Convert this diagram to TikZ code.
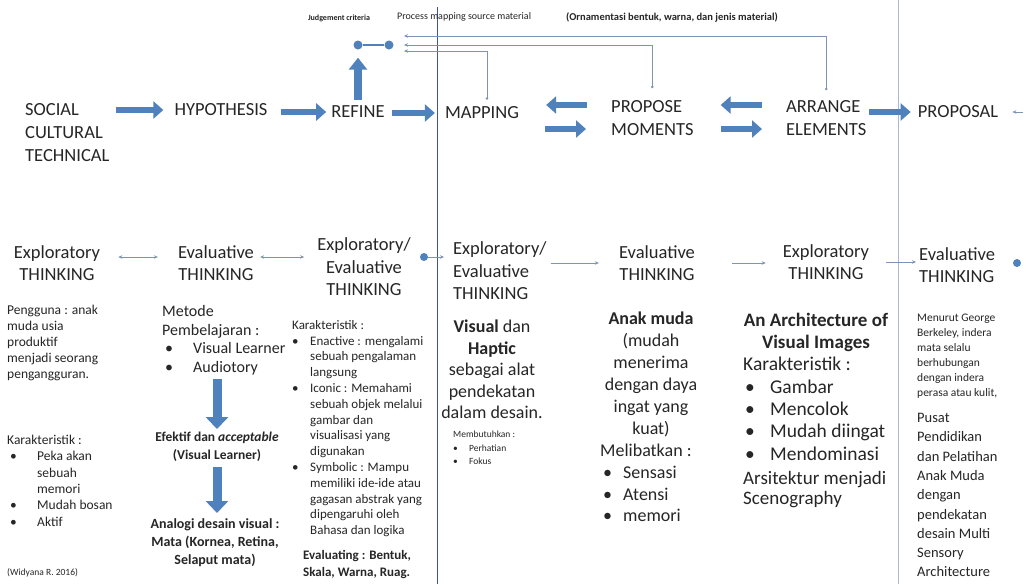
\documentclass[tikz,border=0pt]{standalone}
\usepackage{fontspec}
\setmainfont{Carlito}
\usetikzlibrary{arrows.meta}
\definecolor{arrblue}{RGB}{79,129,189}
\definecolor{txt}{RGB}{38,38,38}
\definecolor{vline}{RGB}{60,85,155}
\definecolor{vlinetwo}{RGB}{165,185,215}
\definecolor{thinc}{RGB}{125,148,182}
\newcommand\bu[1]{\makebox[#1][l]{\textbullet}}
\newcommand\fs[2]{\fontsize{#1}{#2}\selectfont}
\begin{document}
\begin{tikzpicture}[x=1pt,y=-1pt,
  every node/.style={inner sep=0pt,text=txt},
  bigarr/.style={draw=arrblue,line width=6pt,-{Triangle[width=17pt,length=10pt]}},
  vbigarr/.style={draw=arrblue,line width=9pt,-{Triangle[width=22pt,length=12pt]}},
  thinarr/.style={draw=thinc,line width=0.7pt,-{Stealth[length=4pt,width=3.5pt]}},
  dblarr/.style={draw=thinc,line width=0.7pt,{Stealth[length=4pt,width=3.5pt]}-{Stealth[length=4pt,width=3.5pt]}},
  conn/.style={draw=thinc,line width=0.7pt,{Circle[length=2.5pt]}-{Stealth[length=4pt,width=3.5pt]}},
  dotc/.style={circle,fill=arrblue,inner sep=0pt,minimum size=9pt},
  sdotc/.style={circle,fill=arrblue,inner sep=0pt,minimum size=8pt},
  toprow/.style={font=\fs{18.5}{23},align=left},
  think/.style={font=\fs{18.5}{22.5},align=center},
]
\useasboundingbox[fill=white] (0,0) rectangle (1027,584);

% vertical separators
\coordinate (va) at (437,7); \coordinate (vb) at (437,584);
\coordinate (wa) at (898,0); \coordinate (wb) at (898,584);
\draw[vline,line width=1pt] (va) -- (vb);
\draw[vlinetwo,line width=1pt] (wa) -- (wb);

% top labels
\node[font=\bfseries\fs{8}{10}] (jc) at (339,18) {Judgement criteria};
\node[font=\fs{10}{12},anchor=west] (pm) at (397,17) {Process mapping source material};
\node[font=\bfseries\fs{10.5}{12},anchor=west] (orn) at (566,17) {(Ornamentasi bentuk, warna, dan jenis material)};

% judgement circles
\node[dotc] (c1) at (358,45) {};
\node[dotc] (c2) at (389,45) {};
\draw[arrblue,line width=1.3pt] (c1) -- (c2);

% top row
\node[toprow,anchor=west] (soc) at (25,133) {SOCIAL\\CULTURAL\\TECHNICAL};
\node[toprow] (hyp) at (221,110) {HYPOTHESIS};
\node[toprow] (ref) at (358,112) {REFINE};
\node[toprow] (map) at (482,113) {MAPPING};
\node[toprow,anchor=west] (prop) at (611,118) {PROPOSE\\MOMENTS};
\node[toprow,anchor=west] (arr) at (786,118) {ARRANGE\\ELEMENTS};
\node[toprow] (pro) at (958,112) {PROPOSAL};

\draw[bigarr,shorten <=6pt,shorten >=11pt] (soc.east |- hyp) -- (hyp.west);
\draw[bigarr,shorten <=13pt,shorten >=5pt] (hyp.east |- ref) -- (ref.west);
\draw[bigarr,shorten <=7pt,shorten >=10pt] (ref.east |- map) -- (map.west);
\coordinate (pu) at ([yshift=13pt]prop.west);
\coordinate (pl) at ([yshift=-11pt]prop.west);
\draw[bigarr,shorten <=24pt,shorten >=27pt] (pu) -- (map.east |- pu);
\draw[bigarr,shorten <=26pt,shorten >=25pt] (map.east |- pl) -- (pl);
\coordinate (au) at ([yshift=13pt]arr.west);
\coordinate (al) at ([yshift=-11pt]arr.west);
\draw[bigarr,shorten <=24pt,shorten >=27pt] (au) -- (prop.east |- au);
\draw[bigarr,shorten <=27pt,shorten >=24pt] (prop.east |- al) -- (al);
\draw[bigarr,shorten <=3pt,shorten >=7pt] (arr.east |- pro) -- (pro.west);
\coordinate (pe) at (1023,112);
\draw[thinarr,shorten >=14pt] (pe) -- (pro.east);

% refine up to judgement
\draw[draw=arrblue,line width=8pt,-{Triangle[width=18pt,length=12pt]},shorten <=6pt,shorten >=8pt] (ref.north -| c1) -- (c1);

% feedback connectors
\coordinate (j1) at (404,36);
\coordinate (j2) at (404,45);
\coordinate (j3) at (404,51);
\draw[conn,shorten <=10pt] (arr.north) |- (j1);
\draw[conn,shorten <=12pt] (prop.north) |- (j2);
\draw[conn,shorten <=7pt] ([xshift=5pt]map.north) |- (j3);

% second row
\node[think] (t1) at (57,263) {Exploratory\\THINKING};
\node[think] (t2) at (216,263) {Evaluative\\THINKING};
\node[think] (t3) at (364,267) {Exploratory/\\Evaluative\\THINKING};
\node[think,align=left,anchor=west] (t4) at (453,271) {Exploratory/\\Evaluative\\THINKING};
\node[think] (t5) at (657,263) {Evaluative\\THINKING};
\node[think] (t6) at (826,262) {Exploratory\\THINKING};
\node[think,align=left,anchor=west] (t7) at (919,265) {Evaluative\\THINKING};
\node[sdotc] (c3) at (424,257) {};
\node[sdotc] (c4) at (1017,263) {};

\draw[dblarr,shorten <=18pt,shorten >=20pt] ([yshift=6pt]t1.east) -- ([yshift=6pt]t2.west);
\draw[dblarr,shorten <=6pt,shorten >=13pt] ([yshift=6pt]t2.east) -- ([yshift=6pt]t2.east -| t3.west);
\draw[thinarr,shorten >=9pt] (c3) -- (t4.west |- c3);
\draw[thinarr,shorten <=4pt,shorten >=20pt] (t4.east |- t5) -- (t5.west);
\draw[thinarr,shorten <=37pt,shorten >=17pt] (t5.east) -- (t6.west |- t5);
\draw[thinarr,shorten <=17pt,shorten >=3pt] (t6.east) -- (t7.west |- t6);

% column 1
\node[font=\fs{13.5}{16},align=left,anchor=north west] (k1a) at (7,305)
 {Pengguna : anak\\muda usia\\produktif\\menjadi seorang\\pengangguran.};
\node[font=\fs{13.5}{16.3},align=left,anchor=north west] (k1b) at (7,435)
 {Karakteristik :\\\hspace*{3pt}\bu{27pt}Peka akan\\\hspace*{30pt}sebuah\\\hspace*{30pt}memori\\\hspace*{3pt}\bu{27pt}Mudah bosan\\\hspace*{3pt}\bu{27pt}Aktif};
\node[font=\fs{9.5}{11},anchor=west] (src) at (7,573) {(Widyana R. 2016)};

% column 2
\node[font=\fs{16}{18.7},align=left,anchor=north west] (met) at (162,305)
 {Metode\\Pembelajaran :\\\hspace*{3pt}\bu{28pt}Visual Learner\\\hspace*{3pt}\bu{28pt}Audiotory};
\node[font=\bfseries\fs{13.5}{18},align=center] (ef) at (217,447)
 {Efektif dan \textit{acceptable}\\(Visual Learner)};
\node[font=\bfseries\fs{14}{18},align=center,anchor=north] (an) at (215,518)
 {Analogi desain visual :\\Mata (Kornea, Retina,\\Selaput mata)};
\draw[vbigarr,shorten <=4pt,shorten >=3pt] (met.south -| ef.north) -- (ef.north);
\draw[vbigarr,shorten <=5pt,shorten >=5pt] (ef.south) -- (an.north -| ef.south);

% column 3
\node[font=\fs{13}{15.8},align=left,anchor=north west] (k3) at (292,320)
 {Karakteristik :\\
  \bu{18pt}Enactive : mengalami\\\hspace*{18pt}sebuah pengalaman\\\hspace*{18pt}langsung\\
  \bu{18pt}Iconic : Memahami\\\hspace*{18pt}sebuah objek melalui\\\hspace*{18pt}gambar dan\\\hspace*{18pt}visualisasi yang\\\hspace*{18pt}digunakan\\
  \bu{18pt}Symbolic : Mampu\\\hspace*{18pt}memiliki ide-ide atau\\\hspace*{18pt}gagasan abstrak yang\\\hspace*{18pt}dipengaruhi oleh\\\hspace*{18pt}Bahasa dan logika};
\node[font=\bfseries\fs{13}{17.5},align=left,anchor=north west] (ev3) at (303,550)
 {Evaluating : Bentuk,\\Skala, Warna, Ruag.};

% column 4
\node[font=\fs{18}{21.5},align=center,anchor=north] (k4) at (492,320)
 {\textbf{Visual} dan\\\textbf{Haptic}\\sebagai alat\\pendekatan\\dalam desain.};
\node[font=\fs{9.5}{13.5},align=left,anchor=north west] (k4b) at (453,431)
 {Membutuhkan :\\\bu{16pt}Perhatian\\\bu{16pt}Fokus};

% column 5
\node[font=\fs{18}{22},align=center,anchor=north] (k5) at (651,312)
 {\textbf{Anak muda}\\(mudah\\menerima\\dengan daya\\ingat yang\\kuat)};
\node[font=\fs{18}{21.7},align=left,anchor=north west] (k5b) at (600,444)
 {Melibatkan :\\\hspace*{3pt}\bu{20pt}Sensasi\\\hspace*{3pt}\bu{20pt}Atensi\\\hspace*{3pt}\bu{20pt}memori};

% column 6
\node[font=\bfseries\fs{19}{22},align=center,anchor=north] (k6) at (816,313)
 {An Architecture of\\Visual Images};
\node[font=\fs{19.5}{22.4},align=left,anchor=north west] (k6b) at (743,357)
 {Karakteristik :\\\hspace*{2pt}\bu{25pt}Gambar\\\hspace*{2pt}\bu{25pt}Mencolok\\\hspace*{2pt}\bu{25pt}Mudah diingat\\\hspace*{2pt}\bu{25pt}Mendominasi};
\node[font=\fs{19}{20.5},align=left,anchor=north west] (k6c) at (743,471)
 {Arsitektur menjadi\\Scenography};

% column 7
\node[font=\fs{11.5}{15},align=left,anchor=north west] (k7) at (917,314)
 {Menurut George\\Berkeley, indera\\mata selalu\\berhubungan\\dengan indera\\perasa atau kulit,};
\node[font=\fs{14.5}{19.3},align=left,anchor=north west] (k7b) at (917,413)
 {Pusat\\Pendidikan\\dan Pelatihan\\Anak Muda\\dengan\\pendekatan\\desain Multi\\Sensory\\Architecture};
\end{tikzpicture}
\end{document}
